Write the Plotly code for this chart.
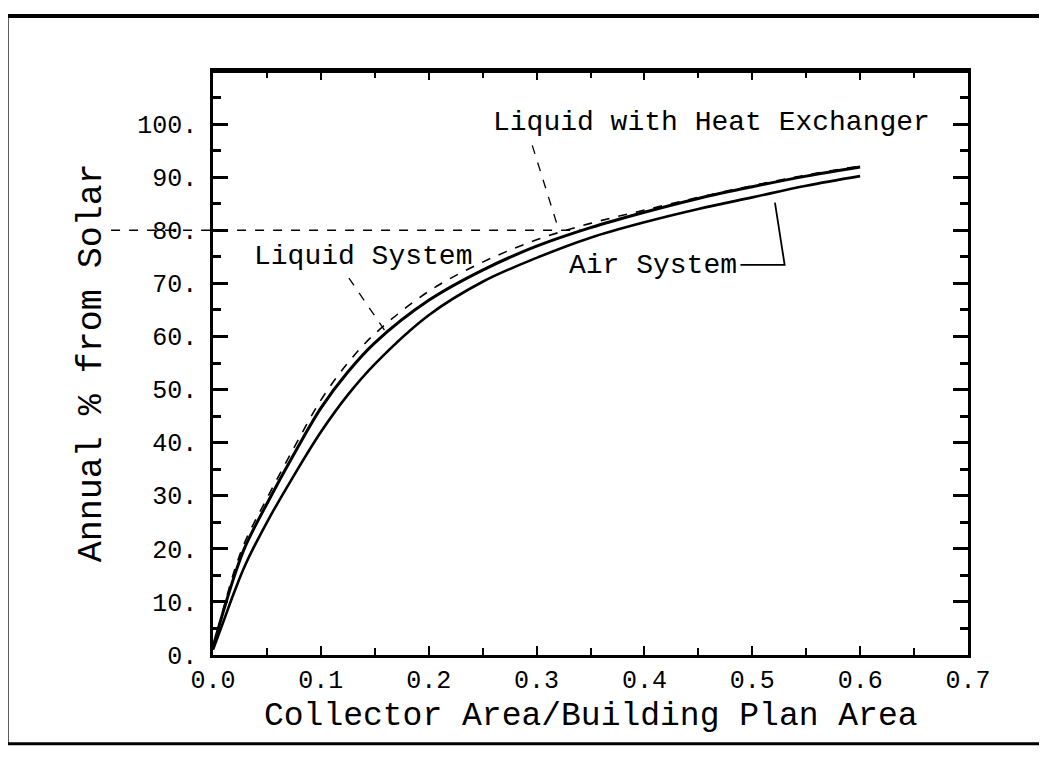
import plotly.graph_objects as go

# ---- data ----
area_ratio = [0, 0.01, 0.02, 0.03, 0.05, 0.075, 0.1, 0.125, 0.15, 0.2,
              0.25, 0.3, 0.35, 0.4, 0.45, 0.5, 0.55, 0.6]
liquid_system = [1.5, 9, 16, 21.5, 29.5, 39, 48, 55, 60.5, 68.5,
                 74, 78.2, 81.3, 83.8, 86.2, 88.4, 90.4, 92.1]
liquid_hx = [1.5, 8.5, 15, 20.5, 28.5, 37.8, 46.5, 53.3, 58.8, 66.8,
             72.5, 77, 80.5, 83.4, 86, 88.2, 90.2, 91.9]
air_system = [1, 6.5, 12, 17, 25, 33.8, 42, 49, 54.8, 64,
              70.3, 74.8, 78.6, 81.5, 84, 86.2, 88.4, 90.2]

x_ticks = [0, 0.1, 0.2, 0.3, 0.4, 0.5, 0.6, 0.7]
x_ticktext = ["0.0", "0.1", "0.2", "0.3", "0.4", "0.5", "0.6", "0.7"]
y_ticks = [0, 10, 20, 30, 40, 50, 60, 70, 80, 90, 100]
y_ticktext = ["0.", "10.", "20.", "30.", "40.", "50.", "60.", "70.", "80.", "90.", "100."]
reference_level = 80

FONT = "Liberation Mono"

fig = go.Figure()
fig.add_trace(go.Scatter(x=area_ratio, y=liquid_system, mode="lines",
                         line=dict(color="black", width=1.6, dash="dash", shape="spline"),
                         name="Liquid System"))
fig.add_trace(go.Scatter(x=area_ratio, y=liquid_hx, mode="lines",
                         line=dict(color="black", width=3, shape="spline"),
                         name="Liquid with Heat Exchanger"))
fig.add_trace(go.Scatter(x=area_ratio, y=air_system, mode="lines",
                         line=dict(color="black", width=2.6, shape="spline"),
                         name="Air System"))

# dotted reference line at 80 %
fig.add_shape(type="line", xref="paper", yref="y", x0=-0.135, x1=0.49,
              y0=reference_level, y1=reference_level,
              line=dict(color="black", width=1.5, dash="dash"))

# leader lines
fig.add_shape(type="line", xref="x", yref="y", x0=0.126, y0=71.0, x1=0.162, y1=60.3,
              line=dict(color="black", width=1.3, dash="dash"))
fig.add_shape(type="line", xref="x", yref="y", x0=0.296, y0=96.0, x1=0.321, y1=79.8,
              line=dict(color="black", width=1.3, dash="dash"))
fig.add_shape(type="path", xref="x", yref="y",
              path="M 0.521 85.2 L 0.530 73.5 L 0.489 73.5",
              line=dict(color="black", width=1.8))

# heavier top border of plot box
fig.add_shape(type="line", xref="paper", yref="paper", x0=0, x1=1, y0=1, y1=1,
              line=dict(color="black", width=4))

# outer frame of scanned page
fig.add_shape(type="line", xref="paper", yref="paper", x0=-0.272, x1=1.2, y0=1.094, y1=1.094,
              line=dict(color="black", width=4))
fig.add_shape(type="line", xref="paper", yref="paper", x0=-0.272, x1=-0.272, y0=1.094, y1=-0.152,
              line=dict(color="black", width=2))
fig.add_shape(type="line", xref="paper", yref="paper", x0=-0.272, x1=1.2, y0=-0.152, y1=-0.152,
              line=dict(color="black", width=3))
fig.add_shape(type="line", xref="paper", yref="paper", x0=1.095, x1=1.095, y0=0.95, y1=-0.152,
              line=dict(color="#999999", width=1, dash="dot"))

ann_font = dict(family=FONT, size=28, color="black")
fig.add_annotation(x=0.139, y=75.1, text="Liquid System", showarrow=False, font=ann_font,
                   xanchor="center", yanchor="middle")
fig.add_annotation(x=0.462, y=100.3, text="Liquid with Heat Exchanger", showarrow=False,
                   font=ann_font, xanchor="center", yanchor="middle")
fig.add_annotation(x=0.408, y=73.4, text="Air System", showarrow=False, font=ann_font,
                   xanchor="center", yanchor="middle")

# axis titles
fig.add_annotation(xref="paper", yref="paper", x=0.5, y=-0.105,
                   text="Collector Area/Building Plan Area", showarrow=False,
                   xanchor="center", yanchor="middle",
                   font=dict(family=FONT, size=33, color="black"))
fig.add_annotation(xref="paper", yref="paper", x=-0.16, y=0.5,
                   text="Annual % from Solar", showarrow=False, textangle=-90,
                   xanchor="center", yanchor="middle",
                   font=dict(family=FONT, size=35, color="black"))

fig.update_xaxes(range=[0, 0.7], tickvals=x_ticks, ticktext=x_ticktext,
                 showline=True, linecolor="black", linewidth=2.5, mirror="ticks",
                 ticks="inside", ticklen=9, tickwidth=1.5, tickcolor="black",
                 minor=dict(dtick=0.05, ticks="inside", ticklen=7, tickwidth=1.5, tickcolor="black"),
                 showgrid=False, zeroline=False,
                 tickfont=dict(family=FONT, size=25, color="black"))
fig.update_yaxes(range=[0, 110], tickvals=y_ticks, ticktext=y_ticktext,
                 showline=True, linecolor="black", linewidth=2.5, mirror="ticks",
                 ticks="inside", ticklen=15, tickwidth=3, tickcolor="black",
                 minor=dict(dtick=5, ticks="inside", ticklen=8, tickwidth=2.5, tickcolor="black"),
                 showgrid=False, zeroline=False, ticklabelstandoff=8,
                 tickfont=dict(family=FONT, size=25, color="black"))

fig.update_layout(width=1047, height=757, showlegend=False,
                  margin=dict(l=205, r=87, t=63, b=110),
                  paper_bgcolor="white", plot_bgcolor="white")

fig.write_html("out.html")
